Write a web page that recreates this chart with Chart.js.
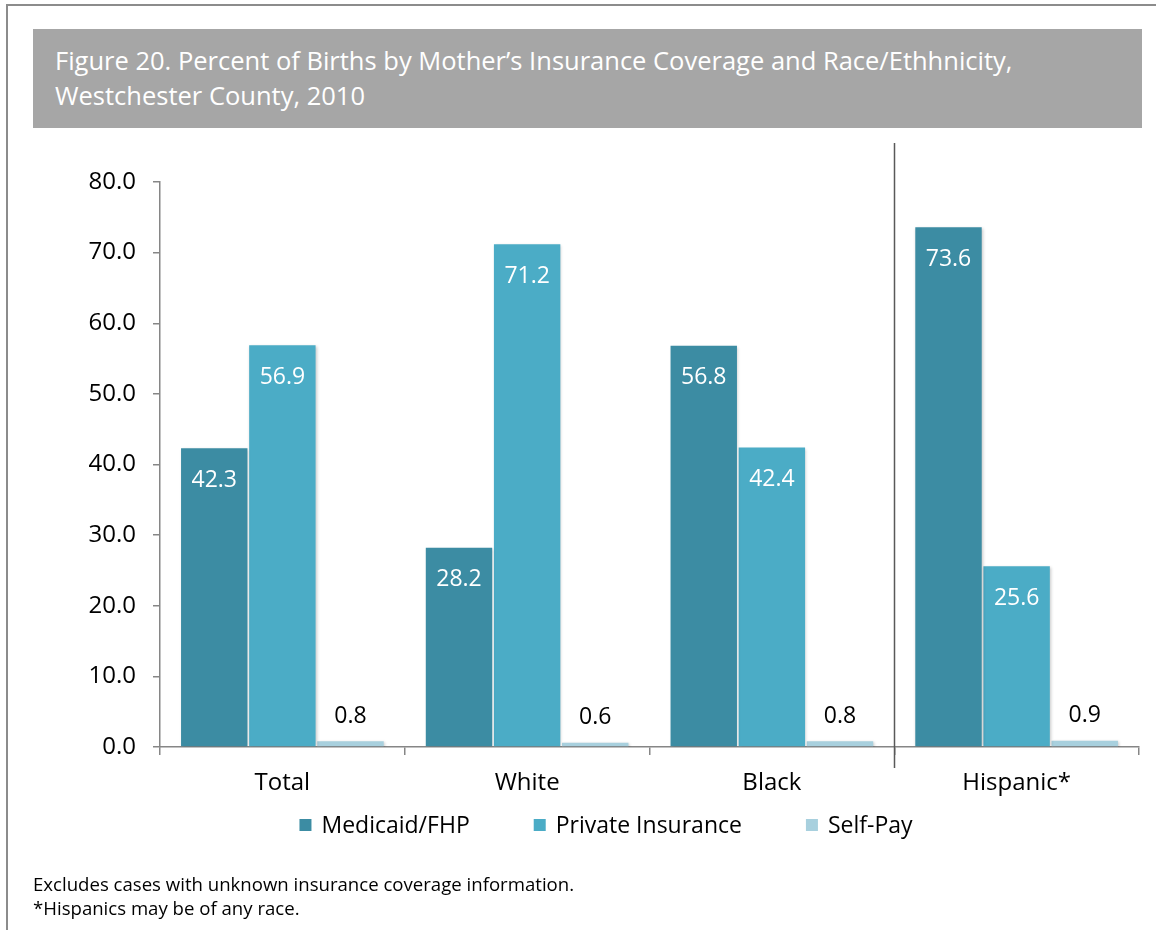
<!DOCTYPE html>
<html>
<head>
<meta charset="utf-8">
<script src="https://cdn.jsdelivr.net/npm/chart.js@4"></script>
<style>
  html, body { margin: 0; padding: 0; background: #fff; }
  body { width: 1156px; height: 930px; position: relative; overflow: hidden; font-family: "Open Sans", sans-serif; }
  #frame { position: absolute; left: 6px; top: 4px; width: 1160px; height: 940px; border: 2px solid #8c8c8c; box-sizing: border-box; }
  #title { position: absolute; left: 33px; top: 29px; width: 1109px; height: 99px; background: #a6a6a6; color: #fff;
           font-size: 25.5px; line-height: 35px; padding: 14px 0 0 22px; box-sizing: border-box; white-space: nowrap; }
  #notes { position: absolute; left: 33px; top: 872px; font-size: 18.6px; line-height: 24px; color: #000; }
  #wrap { position: absolute; left: 0; top: 0; width: 1156px; height: 930px; }
</style>
</head>
<body>
<div id="frame"></div>
<div id="title">Figure 20. Percent of Births by Mother’s Insurance Coverage and Race/Ethhnicity,<br>Westchester County, 2010</div>
<div id="wrap"><canvas id="chart" width="1156" height="930"></canvas></div>
<div id="notes">Excludes cases with unknown insurance coverage information.<br>*Hispanics may be of any race.</div>

<script>
/* =========================
   DATA
========================= */

const groups = ["Total", "White", "Black", "Hispanic*"];
const medicaid = [42.3, 28.2, 56.8, 73.6];
const privateIns = [56.9, 71.2, 42.4, 25.6];
const selfPay = [0.8, 0.6, 0.8, 0.9];
const yTicks = [0, 10, 20, 30, 40, 50, 60, 70, 80];

const FONT = "'Open Sans', sans-serif";

/* =========================
   PLUGINS
========================= */

// value labels: inside the top for the tall bars, above for self-pay
const valueLabels = {
  id: "valueLabels",
  afterDatasetsDraw(chart) {
    const c = chart.ctx;
    c.save();
    c.font = "23px " + FONT;
    c.textAlign = "center";
    c.textBaseline = "middle";
    chart.data.datasets.forEach((ds, i) => {
      chart.getDatasetMeta(i).data.forEach((bar, j) => {
        const v = ds.data[j].toFixed(1);
        if (i < 2) {
          c.fillStyle = "#ffffff";
          c.fillText(v, bar.x, bar.y + 32);
        } else {
          c.fillStyle = "#000000";
          c.fillText(v, bar.x, bar.y - 25);
        }
      });
    });
    c.restore();
  }
};

// vertical divider between race groups and Hispanic
const divider = {
  id: "divider",
  afterDraw(chart) {
    const x = chart.scales.x;
    const px = Math.round((x.getPixelForValue(2) + x.getPixelForValue(3)) / 2) + 0.5;
    const c = chart.ctx;
    c.save();
    c.strokeStyle = "#595959";
    c.lineWidth = 1.5;
    c.beginPath();
    c.moveTo(px, chart.chartArea.top - 39);
    c.lineTo(px, chart.chartArea.bottom + 21);
    c.stroke();
    c.restore();
  }
};

// soft shadow behind bars
const barShadow = {
  id: "barShadow",
  beforeDatasetsDraw(chart) {
    const c = chart.ctx;
    c.save();
    c.shadowColor = "rgba(0,0,0,0.22)";
    c.shadowBlur = 3;
    c.shadowOffsetX = 1;
    c.shadowOffsetY = 1;
  },
  afterDatasetsDraw(chart) {
    chart.ctx.restore();
  }
};

// legend with wide gaps between items, like the original
const wideLegend = {
  id: "wideLegend",
  afterDraw(chart) {
    const c = chart.ctx;
    const box = 12, gapText = 10, gapItem = 64;
    const cy = chart.chartArea.bottom + 78;
    c.save();
    c.font = "23px " + FONT;
    c.textBaseline = "middle";
    const items = chart.data.datasets.map(ds => ({
      label: ds.label, color: ds.backgroundColor, w: c.measureText(ds.label).width
    }));
    const total = items.reduce((s, it) => s + box + gapText + it.w, 0) + gapItem * (items.length - 1);
    let x = 606 - total / 2;
    items.forEach(it => {
      c.fillStyle = it.color;
      c.fillRect(x, cy - box / 2, box, box);
      c.fillStyle = "#000";
      c.fillText(it.label, x + box + gapText, cy + 1);
      x += box + gapText + it.w + gapItem;
    });
    c.restore();
  }
};

/* =========================
   CHART
========================= */

new Chart(document.getElementById("chart"), {
  type: "bar",
  data: {
    labels: groups,
    datasets: [
      { label: "Medicaid/FHP", data: medicaid, backgroundColor: "#3c8ca3" },
      { label: "Private Insurance", data: privateIns, backgroundColor: "#4bacc6" },
      { label: "Self-Pay", data: selfPay, backgroundColor: "#a8d0de" }
    ]
  },
  options: {
    responsive: false,
    animation: false,
    devicePixelRatio: 1,
    categoryPercentage: 0.835,
    barPercentage: 0.975,
    layout: { padding: { left: 0, right: 17, top: 182, bottom: 125 } },
    scales: {
      y: {
        min: 0,
        max: 80,
        afterFit: s => { s.width = 160; },
        afterBuildTicks: s => { s.ticks = yTicks.map(v => ({ value: v })); },
        ticks: {
          color: "#000",
          font: { size: 24, family: FONT },
          padding: 17,
          callback: v => v.toFixed(1)
        },
        grid: { drawOnChartArea: false, tickLength: 7, color: "#868686", lineWidth: 1.5 },
        border: { color: "#868686", width: 1.5 }
      },
      x: {
        afterFit: s => { s.height = 58; },
        ticks: { color: "#000", font: { size: 24, family: FONT }, padding: 14 },
        grid: { drawOnChartArea: false, tickLength: 8, color: "#868686", lineWidth: 1.5, offset: true },
        border: { color: "#868686", width: 1.5 }
      }
    },
    plugins: {
      legend: { display: false },
      tooltip: { enabled: false }
    }
  },
  plugins: [barShadow, valueLabels, divider, wideLegend]
});
</script>
</body>
</html>
